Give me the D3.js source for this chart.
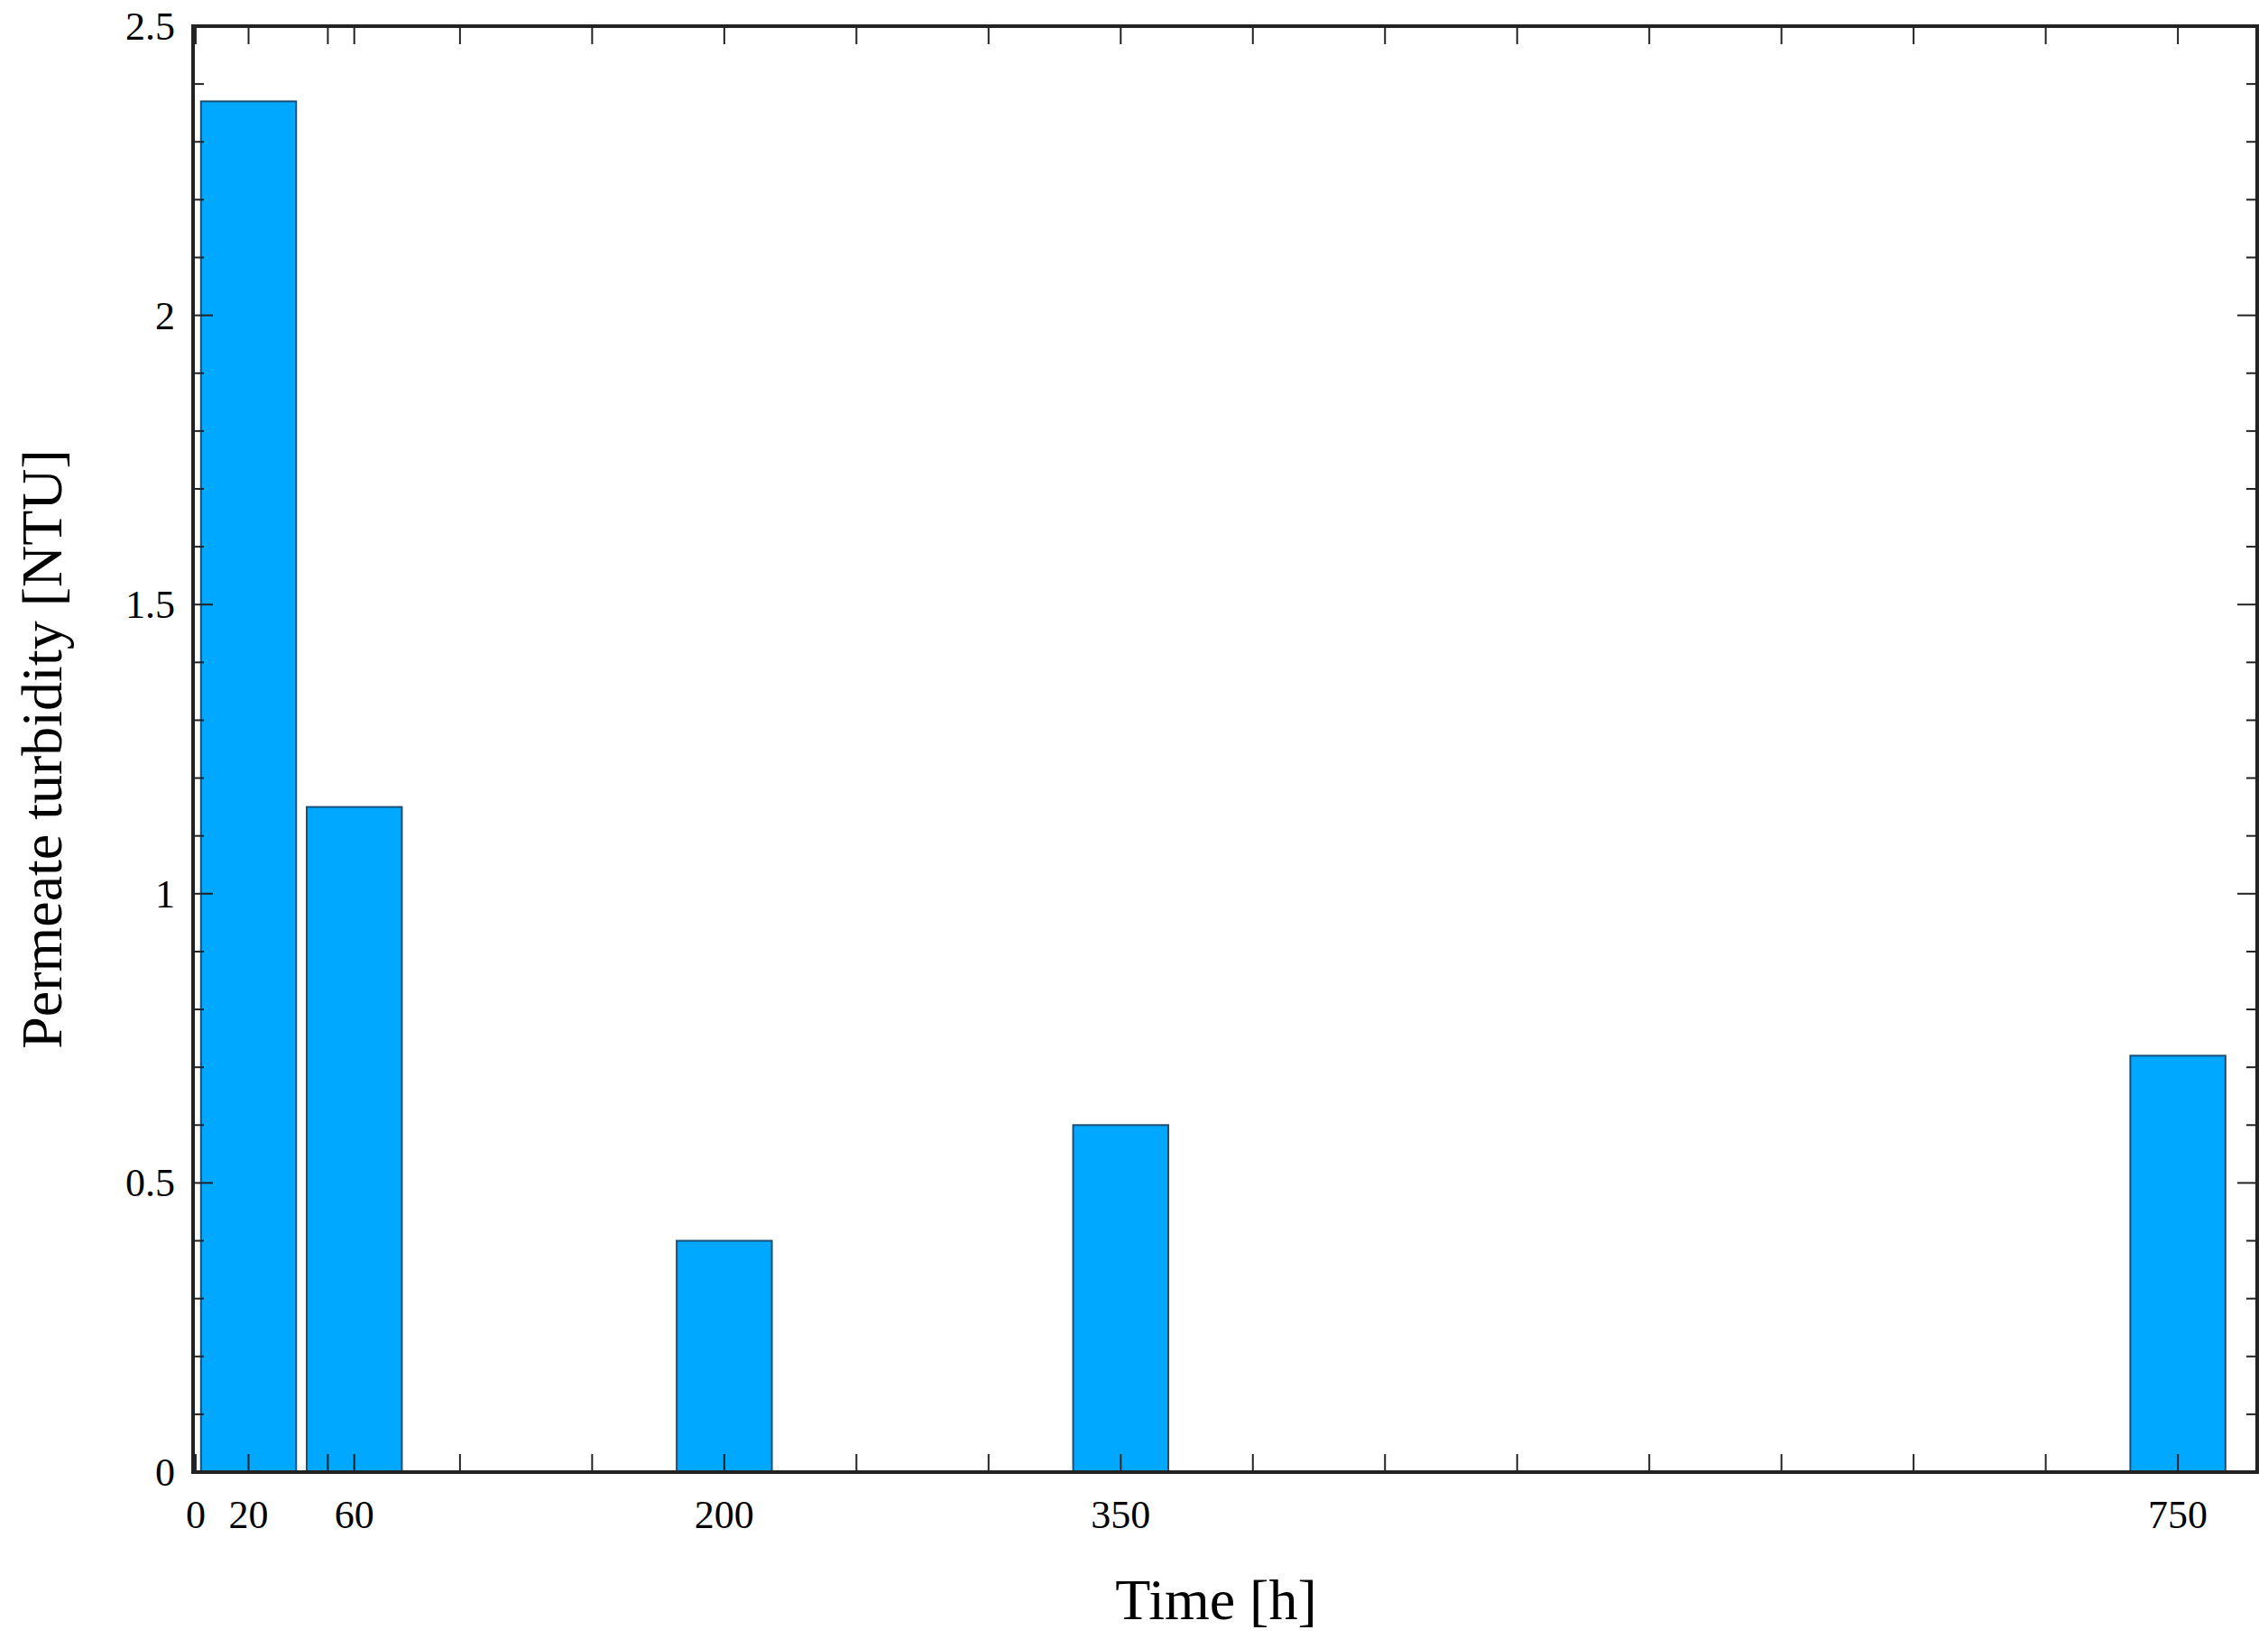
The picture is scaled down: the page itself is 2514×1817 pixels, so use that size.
<!DOCTYPE html>
<html>
<head>
<script src="https://cdnjs.cloudflare.com/ajax/libs/d3/7.8.5/d3.min.js"></script>
<style>body{margin:0;background:#fff}</style>
</head>
<body>
<div id="chart"></div>
<script>
var times = [20, 60, 200, 350, 750];
var turbidity = [2.37, 1.15, 0.40, 0.60, 0.72];
var xLabels = [0, 20, 60, 200, 350, 750];
var yLabels = [0, 0.5, 1, 1.5, 2, 2.5];

var W = 2514, H = 1817;
var m = {left: 214, right: 12, top: 29, bottom: 185};
var w = W - m.left - m.right, h = H - m.top - m.bottom;
var barW = 36;

var svg = d3.select("#chart").append("svg").attr("width", W).attr("height", H);
var g = svg.append("g").attr("transform", "translate(" + m.left + "," + m.top + ")");

var x = d3.scaleLinear().domain([-1, 780]).range([0, w]);
var y = d3.scaleLinear().domain([0, 2.5]).range([h, 0]);

g.selectAll("rect.bar").data(times).enter().append("rect")
  .attr("class", "bar")
  .attr("x", function(d){ return x(d - barW / 2); })
  .attr("width", function(d){ return x(barW) - x(0); })
  .attr("y", function(d, i){ return y(turbidity[i]); })
  .attr("height", function(d, i){ return h - y(turbidity[i]); })
  .attr("fill", "#00a8ff").attr("stroke", "#1a4f7a").attr("stroke-width", 2);

// ticks every 50 plus labelled values
var xTicks = d3.range(50, 780, 50).concat([0, 20, 60]);
var yMinor = d3.range(0, 2.51, 0.1);
var tk = g.append("g").attr("stroke", "#222").attr("stroke-width", 2);
xTicks.forEach(function(t){
  tk.append("line").attr("x1", x(t)).attr("x2", x(t)).attr("y1", h).attr("y2", h - 20);
  tk.append("line").attr("x1", x(t)).attr("x2", x(t)).attr("y1", 0).attr("y2", 20);
});
yMinor.forEach(function(t){
  var major = Math.abs(t * 2 - Math.round(t * 2)) < 1e-6;
  var len = major ? 22 : 12;
  tk.append("line").attr("x1", 0).attr("x2", len).attr("y1", y(t)).attr("y2", y(t));
  tk.append("line").attr("x1", w).attr("x2", w - len).attr("y1", y(t)).attr("y2", y(t));
});

g.append("rect").attr("width", w).attr("height", h)
  .attr("fill", "none").attr("stroke", "#222").attr("stroke-width", 4);

var font = "Liberation Serif, Times New Roman, serif";
g.selectAll("text.xl").data(xLabels).enter().append("text")
  .attr("x", function(d){ return x(d) + (d === 0 ? 0 : 0); })
  .attr("y", h + 62).attr("text-anchor", "middle")
  .attr("font-family", font).attr("font-size", 44)
  .text(function(d){ return d; });
g.selectAll("text.yl").data(yLabels).enter().append("text")
  .attr("x", -20).attr("y", function(d){ return y(d) + 15; })
  .attr("text-anchor", "end")
  .attr("font-family", font).attr("font-size", 44)
  .text(function(d){ return d; });

svg.append("text").attr("x", m.left + w / 2 - 10).attr("y", 1795)
  .attr("text-anchor", "middle").attr("font-family", font).attr("font-size", 64)
  .text("Time [h]");
svg.append("text").attr("transform", "translate(68," + (m.top + h / 2) + ") rotate(-90)")
  .attr("text-anchor", "middle").attr("font-family", font).attr("font-size", 64)
  .text("Permeate turbidity [NTU]");
</script>
</body>
</html>
